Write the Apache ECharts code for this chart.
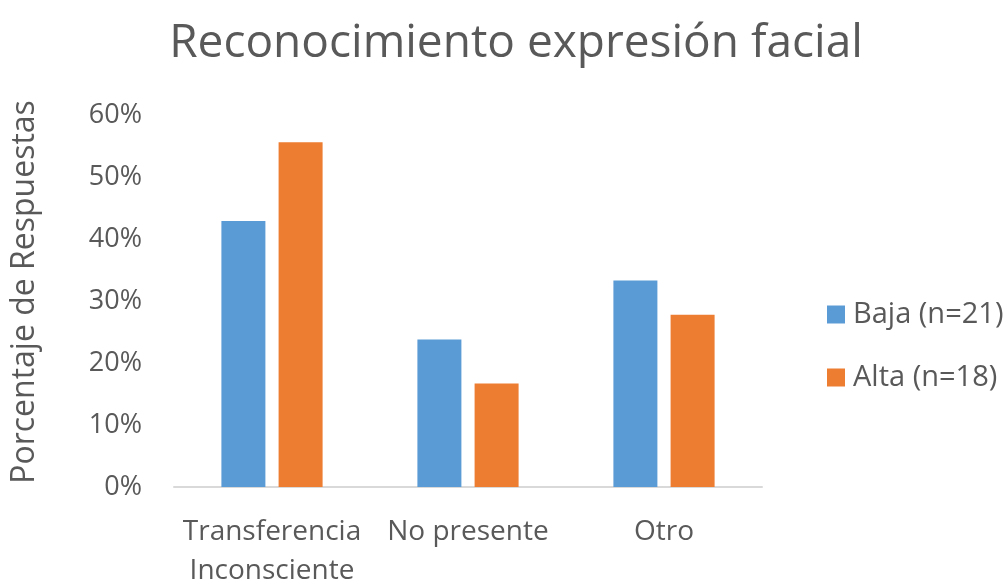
<!DOCTYPE html>
<html>
<head>
<meta charset="utf-8">
<script src="https://cdn.jsdelivr.net/npm/echarts@6/dist/echarts.min.js"></script>
<style>
  html, body { margin: 0; padding: 0; background: #fff; }
  #chart { width: 1006px; height: 586px; }
</style>
</head>
<body>
<div id="chart"></div>
<script>
// Share of responses per category, by group
const categories = ['Transferencia\nInconsciente', 'No presente', 'Otro'];
const bajaValues = [42.9, 23.8, 33.3];   // Baja (n=21)
const altaValues = [55.6, 16.7, 27.8];   // Alta (n=18)
const seriesNames = ['Baja (n=21)', 'Alta (n=18)'];

const textColor = '#595959';
const font = '"Open Sans", "Noto Sans", sans-serif';

const chart = echarts.init(document.getElementById('chart'));
chart.setOption({
  animation: false,
  backgroundColor: '#ffffff',
  title: {
    text: 'Reconocimiento expresión facial',
    left: 511, top: 16, textAlign: 'center',
    textStyle: { color: textColor, fontFamily: font, fontSize: 46, fontWeight: 'normal' }
  },
  legend: {
    orient: 'vertical',
    left: 822, top: 295,
    itemWidth: 18, itemHeight: 18, itemGap: 34,
    icon: 'rect',
    textStyle: { color: textColor, fontFamily: font, fontSize: 29, padding: [0, 0, 0, 3] },
    data: seriesNames
  },
  grid: { left: 174, right: 244, top: 115, bottom: 99, outerBoundsMode: 'none', containLabel: false },
  xAxis: {
    type: 'category',
    data: categories,
    axisLine: { lineStyle: { color: '#d9d9d9', width: 2 } },
    axisTick: { show: false },
    axisLabel: { color: textColor, fontFamily: font, fontSize: 28, lineHeight: 39, margin: 26, interval: 0 }
  },
  yAxis: {
    type: 'value',
    min: 0, max: 60, interval: 10,
    name: 'Porcentaje de Respuestas',
    nameLocation: 'middle',
    nameGap: 133,
    nameTextStyle: { color: textColor, fontFamily: font, fontSize: 32, padding: [0, 0, 0, 18] },
    axisLine: { show: false },
    axisTick: { show: false },
    splitLine: { show: false },
    axisLabel: { color: textColor, fontFamily: font, fontSize: 27, margin: 32, formatter: '{value}%' }
  },
  series: [
    { name: seriesNames[0], type: 'bar', data: bajaValues, barWidth: 44, barGap: '30%',
      itemStyle: { color: '#5b9bd5' } },
    { name: seriesNames[1], type: 'bar', data: altaValues, barWidth: 44,
      itemStyle: { color: '#ed7d31' } }
  ]
});
</script>
</body>
</html>
